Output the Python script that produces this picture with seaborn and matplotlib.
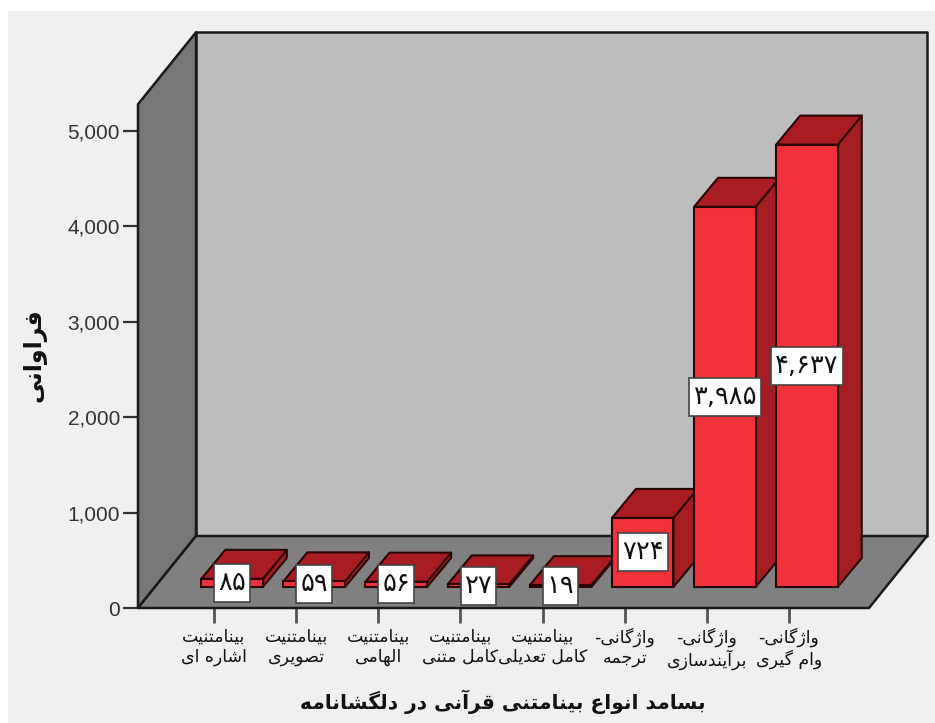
# -*- coding: utf-8 -*-
import numpy as np
import pandas as pd
import matplotlib
matplotlib.use('Agg')
import matplotlib.pyplot as plt
from matplotlib.patches import Polygon, Rectangle
from matplotlib.path import Path
import seaborn as sns

# data
categories = ['بینامتنیت\nاشاره ای', 'بینامتنیت\nتصویری', 'بینامتنیت\nالهامی',
              'بینامتنیت\nکامل متنی', 'بینامتنیت\nکامل تعدیلی', 'واژگانی-\nترجمه',
              'واژگانی-\nبرآیندسازی', 'واژگانی-\nوام گیری']
values = [85, 59, 56, 27, 19, 724, 3985, 4637]
yticks = [0, 1000, 2000, 3000, 4000, 5000]
xtitle = 'بسامد انواع بینامتنی قرآنی در دلگشانامه'
ytitle = 'فراوانی'

# presentation forms: isolated, final, initial, medial
forms = {'ا': 'ﺍﺎ', 'آ': 'ﺁﺂ', 'د': 'ﺩﺪ', 'ر': 'ﺭﺮ', 'ز': 'ﺯﺰ', 'ژ': 'ﮊﮋ', 'و': 'ﻭﻮ',
         'ب': 'ﺏﺐﺑﺒ', 'ت': 'ﺕﺖﺗﺘ', 'ج': 'ﺝﺞﺟﺠ', 'س': 'ﺱﺲﺳﺴ', 'ش': 'ﺵﺶﺷﺸ',
         'ص': 'ﺹﺺﺻﺼ', 'ع': 'ﻉﻊﻋﻌ', 'ف': 'ﻑﻒﻓﻔ', 'ق': 'ﻕﻖﻗﻘ', 'ک': 'ﮎﮏﮐﮑ',
         'گ': 'ﮒﮓﮔﮕ', 'ل': 'ﻝﻞﻟﻠ', 'م': 'ﻡﻢﻣﻤ', 'ن': 'ﻥﻦﻧﻨ', 'ه': 'ﻩﻪﻫﻬ',
         'ی': 'ﯼﯽﯾﯿ'}


def shape_line(line):
    # matplotlib does no arabic shaping, so join the letters here and flip the line
    out = []
    for i, c in enumerate(line):
        if c not in forms:
            out.append(c)
            continue
        prev = line[i - 1] if i > 0 else ''
        nxt = line[i + 1] if i + 1 < len(line) else ''
        joins_prev = prev in forms and len(forms[prev]) == 4
        joins_next = nxt in forms and len(forms[c]) == 4
        if joins_prev and joins_next:
            k = 3
        elif joins_next:
            k = 2
        elif joins_prev:
            k = 1
        else:
            k = 0
        out.append(forms[c][k])
    return ''.join(out)[::-1]


def shape(text):
    return '\n'.join(shape_line(t) for t in text.split('\n'))


def fa_number(v):
    return f'{v:,}'.translate(str.maketrans('0123456789', '۰۱۲۳۴۵۶۷۸۹'))


def label_box(x, y, w, h, mutation_size):
    # white label box, more padding above and below than at the sides
    px, py = 4, 6
    return Path([(x - px, y - py), (x + w + px, y - py), (x + w + px, y + h + py),
                 (x - px, y + h + py), (x - px, y - py)], closed=True)


W, H = 935, 723
sns.set_style('white')
plt.rcParams['font.family'] = ['DejaVu Sans']

fig = plt.figure(figsize=(W / 100, H / 100), dpi=100, facecolor='white')
fig.add_artist(Rectangle((8 / W, 0), (W - 8) / W, (H - 11) / H, transform=fig.transFigure,
                         facecolor='#f0f0f0', edgecolor='none', zorder=-1))
ax = fig.add_axes([138 / W, (H - 608) / H, 731 / W, 477 / H], facecolor='none')

df = pd.DataFrame({'cat': [shape(c) for c in categories], 'value': values})
sns.barplot(data=df, x='cat', y='value', color='#f2323a', saturation=1, width=0.75,
            edgecolor='#2a0505', linewidth=1.5, ax=ax)

xlim = (-76 / 82.1, 7 + 80 / 82.1)
ylim = (0, 5000)
ax.set_xlim(xlim)
ax.set_ylim(ylim)
ux = 731 / (xlim[1] - xlim[0])   # pixels per category
uy = 477 / 5000                  # pixels per unit of value


def add_poly(points, fc, ec='#1a1a1a', lw=1.8, z=1):
    ax.add_patch(Polygon(points, closed=True, facecolor=fc, edgecolor=ec, linewidth=lw,
                         clip_on=False, zorder=z, joinstyle='round'))


# walls and floor
dx, dy = 58 / ux, 72 / uy
x0, x1 = xlim
top = 5280
add_poly([(x0 + dx, dy), (x1 + dx, dy), (x1 + dx, top + dy), (x0 + dx, top + dy)], '#bdbdbd')
add_poly([(x0, 0), (x0 + dx, dy), (x0 + dx, top + dy), (x0, top)], '#777777')
add_poly([(x0, 0), (x1, 0), (x1 + dx, dy), (x0 + dx, dy)], '#808080')

# bars: pushed back onto the floor, with side and top faces
shift_x, shift_y = 18 / ux, 21 / uy
bx, by = 24 / ux, 29 / uy
for i, (p, v) in enumerate(zip(ax.patches, values)):
    p.set_x(p.get_x() + shift_x)
    p.set_y(shift_y)
    z = 3 + i
    p.set_zorder(z + 0.5)
    l = p.get_x()
    r = l + p.get_width()
    t = shift_y + v
    add_poly([(r, shift_y), (r + bx, shift_y + by), (r + bx, t + by), (r, t)], '#a31d22', '#2a0505', lw=1.5, z=z)
    add_poly([(l, t), (r, t), (r + bx, t + by), (l + bx, t + by)], '#a81c22', '#2a0505', lw=1.5, z=z)
    ax.text(l + p.get_width() / 2, shift_y + v / 2, fa_number(v), ha='center', va='center',
            fontsize=18.5, color='#111111', zorder=40, clip_on=False,
            bbox=dict(boxstyle=label_box, facecolor='white', edgecolor='#444444', linewidth=1.2))

for s in ax.spines.values():
    s.set_visible(False)
ax.grid(False)

ax.set_yticks(yticks)
ax.set_yticklabels([f'{t:,}' for t in yticks], fontfamily='Liberation Sans', fontsize=15, color='#333333')
ax.set_xticks(range(len(categories)))
ax.set_xticklabels(df['cat'], fontsize=12.5, color='#111111', linespacing=1.15)
ax.tick_params(axis='y', left=True, length=11, width=1.6, color='#333333', pad=2)
ax.tick_params(axis='x', bottom=True, length=11, width=2, color='#555555', pad=3)

ax.set_xlabel(shape(xtitle), fontsize=14.5, fontweight='bold', color='#111111')
ax.xaxis.set_label_coords((503 - 138) / 731, -(690 - 608) / 477)
ax.set_ylabel(shape(ytitle), fontsize=17, fontweight='bold', color='#111111')
ax.yaxis.set_label_coords((46 - 138) / 731, (608 - 355) / 477)

fig.savefig('out.png', dpi=100)
